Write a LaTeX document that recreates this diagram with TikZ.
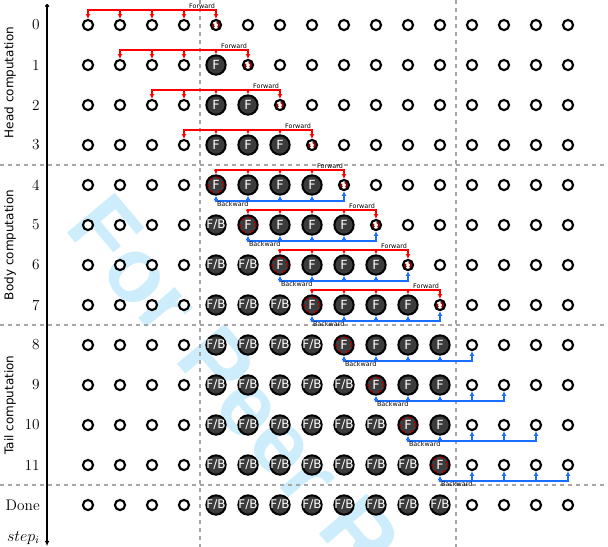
\documentclass[tikz,border=0pt]{standalone}
\usepackage{fontspec}
\setsansfont{DejaVu Sans}
\newfontfamily\wmfont{Liberation Sans}
\usetikzlibrary{arrows.meta}

\definecolor{fwdred}{RGB}{255,0,0}
\definecolor{bwdblue}{RGB}{26,110,255}
\definecolor{curred}{RGB}{165,0,0}
\definecolor{nodegray}{RGB}{60,60,60}
\definecolor{gridgray}{RGB}{165,165,165}
\definecolor{wmblue}{RGB}{205,237,252}

\tikzset{
  >={Latex[length=3.5pt,width=3.5pt]},
  small/.style={circle, draw=black, fill=white, line width=1.6pt, minimum size=7.6pt, inner sep=0pt},
  target/.style={small, path picture={\draw[curred, dashed, line width=1.5pt] (path picture bounding box.center) circle (2.3pt);}},
  big/.style={circle, draw=black, fill=nodegray, line width=1.5pt, minimum size=14.5pt, inner sep=0pt, text=white, font=\sffamily\fontsize{9.5}{9.5}\selectfont},
  fwnode/.style={big},
  curnode/.style={big, path picture={\draw[curred, dashed, line width=1.2pt] (path picture bounding box.center) circle (6pt);}},
  fbnode/.style={big, font=\sffamily\fontsize{9}{9}\selectfont},
  fwd/.style={fwdred, line width=1.1pt},
  bwd/.style={bwdblue, line width=1.1pt},
  tag/.style={font=\sffamily\fontsize{4.8}{4.8}\selectfont, inner sep=0.6pt},
  border/.style={gridgray, line width=0.9pt, dash pattern=on 3pt off 3pt},
  axis/.style={line width=1pt, {Circle[length=3pt]}-{Latex[length=4pt,width=3.5pt]}},
  rowlbl/.style={anchor=east, font=\fontsize{11.5}{12}\selectfont, inner sep=0pt},
  grp/.style={rotate=90, font=\sffamily\fontsize{9}{9}\selectfont},
  wm/.style={text=wmblue, font=\wmfont\bfseries\fontsize{68}{68}\selectfont}
}

\begin{document}
\begin{tikzpicture}[x=24pt, y=-30pt]
  % Frame
  \useasboundingbox (-2.75,-0.625) rectangle (16.25,13.05);
  \clip (-2.75,-0.625) rectangle (16.25,13.05);

  % Watermark
  \node[wm, rotate=-50, anchor=base west] (wm) at (-0.875,5) {For Peer Review};

  % Phase borders
  \foreach \y in {3.5,7.5,11.5}
    \draw[border] (-2.75,\y) -- (16.25,\y);
  \foreach \x in {3.5,11.5}
    \draw[border] (\x,-0.625) -- (\x,13.05);

  % Step axis
  \draw[axis] (-1.28,-0.525) -- (-1.28,13.03);
  \node[anchor=base east, font=\fontsize{12}{12}\selectfont, inner sep=0pt] (stepi) at (-1.5,12.9) {$step_i$};

  % Phase labels
  \node[grp] (head) at (-2.4375,1.4375) {Head computation};
  \node[grp] (body) at (-2.4375,5.5) {Body computation};
  \node[grp] (tail) at (-2.4375,9.5) {Tail computation};

  % Step labels
  \foreach \r in {0,...,11}
    \node[rowlbl] (l-\r) at (-1.5,\r) {\r};
  \node[rowlbl] (l-done) at (-1.5,12) {Done};

  % Micro-batch states
  \foreach \r in {0,...,11}
    \foreach \c in {0,...,15} {
      \def\kind{small}\def\txt{}
      \ifnum\c>3 \ifnum\c<12
        \ifnum\c<\r \def\kind{fbnode}\def\txt{\makebox[0pt]{F/B}}\fi
        \ifnum\c=\r \def\kind{curnode}\def\txt{F}\fi
        \ifnum\c>\r \ifnum\numexpr\c-\r\relax<4 \def\kind{fwnode}\def\txt{F}\fi\fi
      \fi\fi
      \ifnum\r<8 \ifnum\c=\numexpr\r+4\relax \def\kind{target}\fi\fi
      \node[\kind] (n-\r-\c) at (\c,\r) {\txt};
    }
  \foreach \c in {0,...,15} {
    \def\kind{small}\def\txt{}
    \ifnum\c>3 \ifnum\c<12 \def\kind{fbnode}\def\txt{\makebox[0pt]{F/B}}\fi\fi
    \node[\kind] (n-done-\c) at (\c,12) {\txt};
  }

  % Forward passes
  \foreach \r in {0,...,7} {
    \pgfmathtruncatemacro{\e}{\r+4}
    \foreach \c in {\r,...,\e}
      \path (n-\r-\c.center) ++(0,-0.375) coordinate (f-\r-\c);
    \draw[fwd, line cap=rect] (f-\r-\r) -- (f-\r-\e);
    \foreach \c in {\r,...,\e}
      \draw[fwd, ->] (f-\r-\c) -- (n-\r-\c);
    \node[tag, anchor=south east] (ft-\r) at (f-\r-\e) {Forward};
  }

  % Backward passes
  \foreach \r in {4,...,11} {
    \pgfmathtruncatemacro{\e}{\r+4}
    \foreach \c in {\r,...,\e}
      \path (n-\r-\c.center) ++(0,0.4) coordinate (b-\r-\c);
    \draw[bwd, line cap=rect] (b-\r-\r) -- (b-\r-\e);
    \foreach \c in {\r,...,\e}
      \draw[bwd, ->] (b-\r-\c) -- (n-\r-\c);
    \node[tag, anchor=north west] (bt-\r) at (b-\r-\r) {Backward};
  }
\end{tikzpicture}
\end{document}
